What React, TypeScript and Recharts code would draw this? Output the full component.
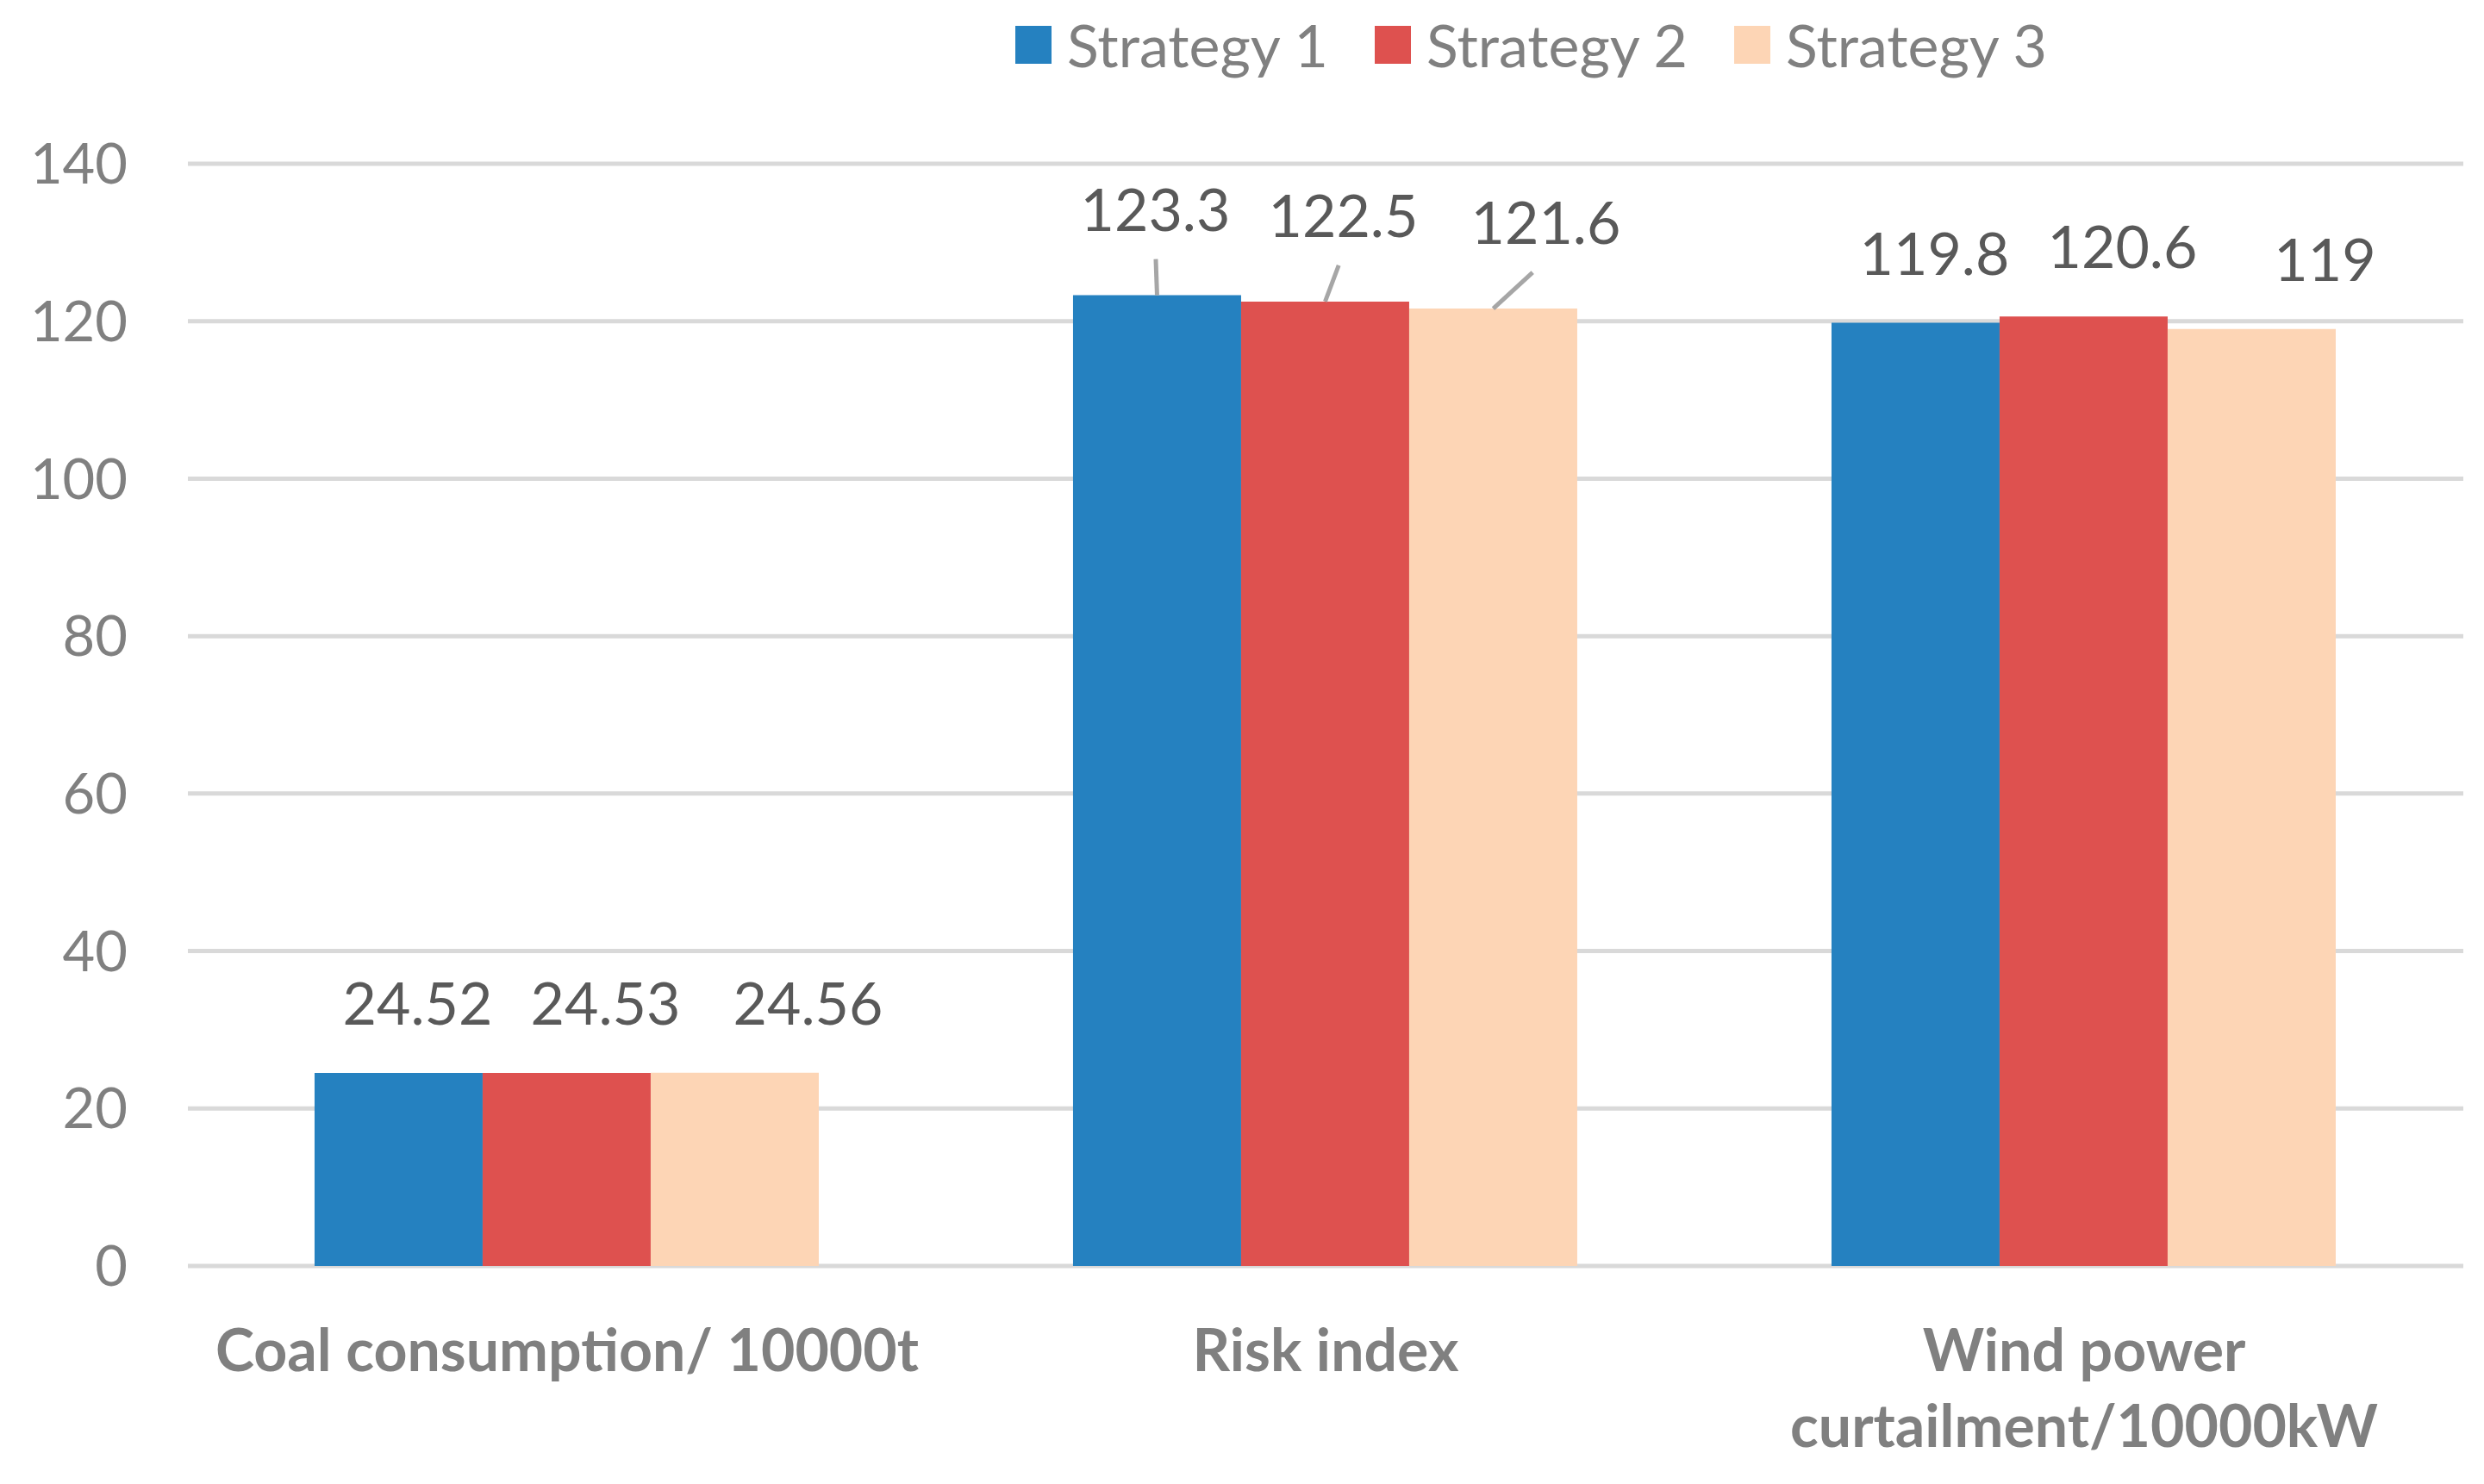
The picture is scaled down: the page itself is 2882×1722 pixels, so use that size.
import React from "react";
import {
  BarChart,
  Bar,
  XAxis,
  YAxis,
  CartesianGrid,
  Legend,
} from "recharts";

const categories = [
  "Coal consumption/ 10000t",
  "Risk index",
  "Wind power curtailment/10000kW",
];
const strategy1 = [24.52, 123.3, 119.8];
const strategy2 = [24.53, 122.5, 120.6];
const strategy3 = [24.56, 121.6, 119];
const seriesNames = ["Strategy 1", "Strategy 2", "Strategy 3"];
const yTicks = [0, 20, 40, 60, 80, 100, 120, 140];

// labels that Excel pulled up with a leader line
const leaderCategory = "Risk index";

const colors = ["#2581C0", "#DE514F", "#FDD5B5"];
const FONT = "Lato, 'Open Sans', sans-serif";
const GRAY = "#808080";

const data = categories.map((category, i) => ({
  category,
  s1: strategy1[i],
  s2: strategy2[i],
  s3: strategy3[i],
}));

const makeLabel = (dx: number) => (props: any) => {
  const { x, y, width, value, index } = props;
  const cat = props.payload?.category ?? categories[index];
  const cx = Number(x) + Number(width) / 2;
  const top = Number(y);
  const leader = cat === leaderCategory;
  const center = top - (leader ? 99 : 80);
  const lx = cx + dx - (leader ? 24 : 0);
  return (
    <g>
      {leader && (
        <line
          x1={cx + (lx - cx) * 0.75}
          y1={top - 42}
          x2={cx}
          y2={top}
          stroke="#A6A6A6"
          strokeWidth={5}
        />
      )}
      <text
        x={lx}
        y={center + 24}
        textAnchor="middle"
        fill="#595959"
        fontSize={68}
        fontFamily={FONT}
      >
        {value}
      </text>
    </g>
  );
};

// rough greedy wrap, Excel breaks long category names onto two lines
const wrapLabel = (label: string, maxChars: number) => {
  const lines: string[] = [];
  let cur = "";
  label.split(" ").forEach((w) => {
    const next = cur ? cur + " " + w : w;
    if (next.length > maxChars && cur) {
      lines.push(cur);
      cur = w;
    } else {
      cur = next;
    }
  });
  if (cur) lines.push(cur);
  return lines;
};

const CategoryTick = (props: any) => {
  const { x, y, payload } = props;
  const lines = wrapLabel(String(payload.value), 25);
  return (
    <text
      x={x}
      y={y + 122}
      textAnchor="middle"
      fill={GRAY}
      fontSize={68}
      fontWeight={700}
      fontFamily={FONT}
    >
      {lines.map((line, i) => (
        <tspan key={i} x={x} dy={i === 0 ? 0 : 88}>
          {line}
        </tspan>
      ))}
    </text>
  );
};

const LegendContent = (props: any) => {
  const items = props.payload || [];
  return (
    <div style={{ display: "flex", alignItems: "center" }}>
      {items.map((item: any) => (
        <div
          key={item.value}
          style={{ display: "flex", alignItems: "center", marginRight: 54 }}
        >
          <div style={{ width: 42, height: 44, background: item.color }} />
          <span
            style={{
              marginLeft: 18,
              fontSize: 68,
              lineHeight: 1,
              color: GRAY,
              fontFamily: FONT,
            }}
          >
            {item.value}
          </span>
        </div>
      ))}
    </div>
  );
};

export default function App() {
  return (
    <div style={{ width: 2866, height: 1700, background: "#fff" }}>
      <BarChart
        width={2866}
        height={1700}
        data={data}
        margin={{ top: 182, right: 16, bottom: 39, left: 0 }}
        barCategoryGap="16.7%"
        barGap={0}
      >
        <CartesianGrid
          vertical={false}
          stroke="#D9D9D9"
          strokeWidth={5}
        />
        <XAxis
          dataKey="category"
          axisLine={false}
          tickLine={false}
          tickSize={0}
          tickMargin={0}
          height={200}
          interval={0}
          tick={<CategoryTick />}
        />
        <YAxis
          domain={[0, 140]}
          ticks={yTicks}
          axisLine={false}
          tickLine={false}
          tickSize={0}
          tickMargin={70}
          width={210}
          tick={{ fill: GRAY, fontSize: 65, fontFamily: FONT }}
        />
        <Legend
          verticalAlign="middle"
          align="center"
          wrapperStyle={{ top: 10, left: 1170, width: "auto", height: "auto" }}
          content={<LegendContent />}
        />
        <Bar
          dataKey="s1"
          name={seriesNames[0]}
          fill={colors[0]}
          isAnimationActive={false}
          label={makeLabel(22)}
        />
        <Bar
          dataKey="s2"
          name={seriesNames[1]}
          fill={colors[1]}
          isAnimationActive={false}
          label={makeLabel(45)}
        />
        <Bar
          dataKey="s3"
          name={seriesNames[2]}
          fill={colors[2]}
          isAnimationActive={false}
          label={makeLabel(85)}
        />
      </BarChart>
    </div>
  );
}
